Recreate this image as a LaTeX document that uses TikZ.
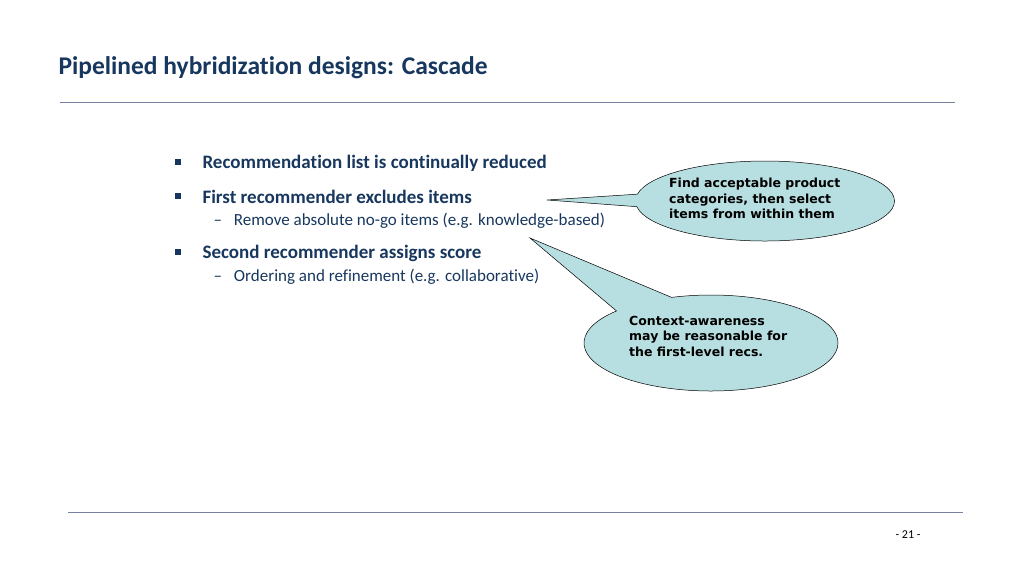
\documentclass[tikz,border=0pt]{standalone}
\usepackage{fontspec}
\setmainfont{Carlito}[Ligatures=NoCommon]
\newfontfamily\callfont{DejaVu Sans}
\usetikzlibrary{shapes.callouts}
\definecolor{titleblue}{RGB}{23,55,94}
\definecolor{rulegrey}{RGB}{120,130,160}
\definecolor{calloutfill}{RGB}{183,222,224}
\tikzset{
  bulletitem/.style={anchor=west,font=\fontsize{19}{22}\selectfont\bfseries,text=titleblue},
  subitem/.style={anchor=west,font=\fontsize{17}{20}\selectfont,text=titleblue},
  callouttext/.style={font=\callfont\fontsize{12.5}{15.5}\selectfont\bfseries,align=left,inner sep=0pt},
  bubble/.style={ellipse callout,draw=black,fill=calloutfill,line width=0.5pt}
}
\begin{document}
\begin{tikzpicture}[x=1pt,y=-1pt]
  \useasboundingbox (0,0) rectangle (1024,576);
  % title and rules
  \node[anchor=west,font=\fontsize{25.5}{29}\selectfont\bfseries,text=titleblue] (title) at (55,68) {Pipelined hybridization designs: Cascade};
  \draw[rulegrey,line width=0.6pt] (60,102) -- (955,102);
  \draw[rulegrey,line width=0.6pt] (68,512) -- (963,512);
  \node[font=\fontsize{12}{14}\selectfont] (pageno) at (908,535) {- 21 -};
  % bullets
  \foreach \yy/\name/\txt in {163/b1/Recommendation list is continually reduced,197/b2/First recommender excludes items,253/b3/Second recommender assigns score}{
    \fill[titleblue] (175,\yy-4) rectangle (181,\yy+2);
    \node[bulletitem] (\name) at (199,\yy) {\txt};
  }
  \node[subitem] (s1) at (210,221) {--\hspace{12pt}Remove absolute no-go items (e.g. knowledge-based)};
  \node[subitem] (s2) at (210,277) {--\hspace{12pt}Ordering and refinement (e.g. collaborative)};
  % callouts
  \coordinate (tipA) at (547,200);
  \coordinate (tipB) at (530,238);
  \node[bubble,minimum width=259pt,minimum height=80pt,callout absolute pointer=(tipA),callout pointer arc=18] (callA) at (765,201) {};
  \node[callouttext,anchor=north west] (textA) at (669,178) {Find acceptable product\\categories, then select\\items from within them};
  \node[bubble,minimum width=254pt,minimum height=96pt,callout absolute pointer=(tipB),callout pointer arc=30] (callB) at (711,343) {};
  \node[callouttext,anchor=north west] (textB) at (629,316) {Context-awareness\\may be reasonable for\\the first-level recs.};
\end{tikzpicture}
\end{document}
